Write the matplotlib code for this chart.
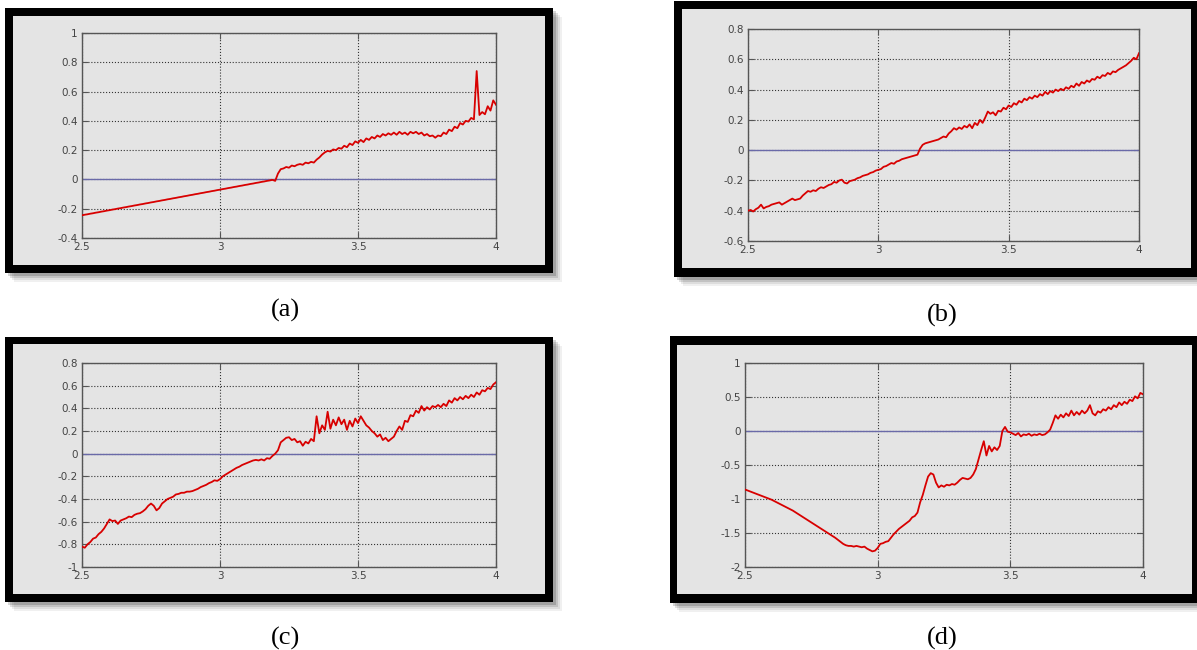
import numpy as np
import matplotlib
matplotlib.use("Agg")
import matplotlib.pyplot as plt
from matplotlib.patches import Rectangle
from matplotlib.ticker import FuncFormatter

plt.rcParams["axes.unicode_minus"] = False

# sample times (shared by all four panels)
t = np.linspace(2.5, 4.0, 151)

ya = [-0.245, -0.241, -0.238, -0.234, -0.231, -0.227, -0.224, -0.220, -0.217, -0.213,
      -0.210, -0.206, -0.203, -0.199, -0.196, -0.192, -0.189, -0.185, -0.182, -0.178,
      -0.175, -0.171, -0.168, -0.164, -0.161, -0.157, -0.154, -0.150, -0.147, -0.143,
      -0.140, -0.136, -0.133, -0.129, -0.126, -0.122, -0.119, -0.115, -0.112, -0.108,
      -0.105, -0.101, -0.098, -0.094, -0.091, -0.087, -0.084, -0.080, -0.077, -0.073,
      -0.070, -0.066, -0.063, -0.059, -0.056, -0.052, -0.049, -0.045, -0.042, -0.038,
      -0.035, -0.031, -0.028, -0.024, -0.021, -0.017, -0.014, -0.010, -0.007, -0.003,
      -0.010, 0.040, 0.070, 0.075, 0.085, 0.080, 0.095, 0.090, 0.100, 0.105,
      0.100, 0.115, 0.110, 0.120, 0.115, 0.135, 0.150, 0.170, 0.185, 0.195,
      0.190, 0.205, 0.200, 0.215, 0.210, 0.230, 0.220, 0.245, 0.235, 0.260,
      0.250, 0.270, 0.255, 0.280, 0.270, 0.290, 0.280, 0.300, 0.290, 0.310,
      0.300, 0.315, 0.305, 0.320, 0.305, 0.325, 0.310, 0.320, 0.305, 0.325,
      0.315, 0.325, 0.310, 0.320, 0.300, 0.310, 0.295, 0.300, 0.285, 0.300,
      0.295, 0.320, 0.310, 0.340, 0.330, 0.360, 0.350, 0.385, 0.375, 0.400,
      0.395, 0.420, 0.410, 0.740, 0.440, 0.460, 0.445, 0.500, 0.470, 0.540,
      0.510]

yb = [-0.400, -0.395, -0.405, -0.390, -0.380, -0.360, -0.385, -0.375, -0.370, -0.360,
      -0.355, -0.350, -0.345, -0.360, -0.350, -0.340, -0.330, -0.320, -0.330, -0.325,
      -0.320, -0.300, -0.285, -0.270, -0.275, -0.265, -0.270, -0.255, -0.245, -0.250,
      -0.240, -0.230, -0.225, -0.210, -0.215, -0.200, -0.195, -0.215, -0.220, -0.205,
      -0.200, -0.195, -0.185, -0.180, -0.170, -0.165, -0.160, -0.150, -0.145, -0.135,
      -0.130, -0.125, -0.110, -0.105, -0.095, -0.085, -0.090, -0.075, -0.070, -0.060,
      -0.055, -0.050, -0.045, -0.040, -0.035, -0.030, 0.010, 0.035, 0.045, 0.050,
      0.055, 0.060, 0.065, 0.070, 0.080, 0.090, 0.085, 0.110, 0.125, 0.145,
      0.135, 0.150, 0.140, 0.160, 0.150, 0.170, 0.145, 0.180, 0.165, 0.200,
      0.180, 0.215, 0.255, 0.240, 0.250, 0.230, 0.260, 0.255, 0.280, 0.270,
      0.295, 0.285, 0.310, 0.300, 0.325, 0.315, 0.340, 0.330, 0.350, 0.340,
      0.360, 0.350, 0.370, 0.360, 0.385, 0.370, 0.390, 0.380, 0.400, 0.390,
      0.405, 0.395, 0.415, 0.405, 0.425, 0.415, 0.440, 0.425, 0.450, 0.440,
      0.460, 0.450, 0.470, 0.465, 0.485, 0.475, 0.495, 0.490, 0.510, 0.500,
      0.520, 0.515, 0.530, 0.540, 0.550, 0.560, 0.575, 0.590, 0.610, 0.600,
      0.640]

yc = [-0.820, -0.830, -0.800, -0.780, -0.750, -0.740, -0.710, -0.690, -0.660, -0.620,
      -0.580, -0.595, -0.590, -0.620, -0.590, -0.580, -0.570, -0.555, -0.560, -0.540,
      -0.530, -0.525, -0.510, -0.490, -0.460, -0.440, -0.460, -0.500, -0.480, -0.440,
      -0.420, -0.400, -0.390, -0.380, -0.360, -0.355, -0.345, -0.345, -0.335, -0.335,
      -0.330, -0.320, -0.310, -0.295, -0.285, -0.275, -0.260, -0.250, -0.235, -0.240,
      -0.225, -0.200, -0.185, -0.170, -0.155, -0.140, -0.125, -0.115, -0.100, -0.090,
      -0.080, -0.070, -0.060, -0.055, -0.060, -0.050, -0.060, -0.040, -0.045, -0.020,
      0.000, 0.030, 0.100, 0.120, 0.140, 0.145, 0.120, 0.130, 0.100, 0.110,
      0.070, 0.105, 0.090, 0.130, 0.110, 0.330, 0.180, 0.250, 0.210, 0.370,
      0.220, 0.300, 0.250, 0.320, 0.260, 0.300, 0.210, 0.290, 0.240, 0.310,
      0.270, 0.330, 0.290, 0.250, 0.230, 0.200, 0.180, 0.150, 0.170, 0.120,
      0.140, 0.110, 0.130, 0.150, 0.200, 0.240, 0.210, 0.290, 0.280, 0.340,
      0.330, 0.380, 0.360, 0.420, 0.380, 0.410, 0.390, 0.420, 0.410, 0.430,
      0.410, 0.440, 0.420, 0.470, 0.450, 0.490, 0.470, 0.500, 0.480, 0.510,
      0.490, 0.520, 0.500, 0.540, 0.520, 0.560, 0.550, 0.580, 0.570, 0.610,
      0.630]

yd = [-0.860, -0.875, -0.890, -0.905, -0.920, -0.935, -0.950, -0.965, -0.980, -0.995,
      -1.010, -1.030, -1.050, -1.070, -1.090, -1.110, -1.130, -1.150, -1.170, -1.195,
      -1.220, -1.245, -1.270, -1.295, -1.320, -1.345, -1.370, -1.395, -1.420, -1.445,
      -1.470, -1.495, -1.520, -1.545, -1.570, -1.600, -1.630, -1.660, -1.680, -1.690,
      -1.690, -1.700, -1.690, -1.700, -1.710, -1.700, -1.730, -1.750, -1.770, -1.760,
      -1.720, -1.660, -1.650, -1.630, -1.620, -1.570, -1.520, -1.480, -1.440, -1.410,
      -1.380, -1.350, -1.320, -1.270, -1.250, -1.200, -1.050, -0.940, -0.800, -0.670,
      -0.620, -0.640, -0.760, -0.830, -0.800, -0.820, -0.790, -0.800, -0.780, -0.790,
      -0.760, -0.720, -0.690, -0.700, -0.710, -0.690, -0.640, -0.560, -0.420, -0.280,
      -0.150, -0.360, -0.220, -0.300, -0.240, -0.280, -0.220, 0.000, 0.060, -0.010,
      -0.020, -0.040, -0.060, -0.030, -0.080, -0.050, -0.060, -0.040, -0.070, -0.050,
      -0.060, -0.040, -0.060, -0.050, -0.020, 0.020, 0.120, 0.230, 0.180, 0.240,
      0.200, 0.260, 0.220, 0.300, 0.230, 0.280, 0.240, 0.300, 0.260, 0.300,
      0.380, 0.260, 0.230, 0.290, 0.270, 0.320, 0.300, 0.350, 0.320, 0.380,
      0.350, 0.420, 0.380, 0.430, 0.400, 0.460, 0.440, 0.510, 0.480, 0.560,
      0.540]

series = [ya, yb, yc, yd]
labels = ["(a)", "(b)", "(c)", "(d)"]
ylims = [(-0.4, 1.0), (-0.6, 0.8), (-1.0, 0.8), (-2.0, 1.0)]
ysteps = [0.2, 0.2, 0.2, 0.5]
xticks = [2.5, 3.0, 3.5, 4.0]

W, H = 1197, 650
fig = plt.figure(figsize=(W / 100, H / 100), dpi=100)
fig.patch.set_facecolor("white")


def fbox(x0, y0, x1, y1):
    # pixel box (top-left origin) -> figure fraction [l, b, w, h]
    return [x0 / W, 1 - y1 / H, (x1 - x0) / W, (y1 - y0) / H]


def rect(x0, y0, x1, y1, **kw):
    l, b, w, h = fbox(x0, y0, x1, y1)
    fig.patches.append(Rectangle((l, b), w, h, transform=fig.transFigure,
                                 zorder=-5, **kw))


# frame outer, frame inner, axes box, label centre (pixels)
frames = [(5, 8, 553, 273), (674, 1, 1197, 277), (5, 337, 553, 602), (670, 336, 1197, 603)]
inners = [(13, 16, 545, 265), (682, 9, 1191, 268), (13, 344, 545, 594), (677, 345, 1192, 594)]
axboxes = [(82, 33, 496, 238), (748, 29, 1139, 241), (82, 363, 496, 567), (745, 363, 1143, 567)]
labpos = [(285, 310), (942, 315), (285, 638), (942, 638)]

panel_gray = "#e4e4e4"

for k in range(4):
    x0, y0, x1, y1 = frames[k]
    # soft drop shadow
    for d, a in [(9, 0.06), (7, 0.08), (5, 0.12), (3, 0.16)]:
        rect(x0 + d, y0 + d, min(x1 + d, W), y1 + d, color="black", alpha=a, lw=0)
    rect(x0, y0, x1, y1, color="black", lw=0)
    rect(*inners[k], color=panel_gray, lw=0)

    ax = fig.add_axes(fbox(*axboxes[k]))
    ax.set_zorder(5)
    ax.set_facecolor(panel_gray)
    ax.axhline(0, color="#6a6aa8", lw=1.0, zorder=2)
    ax.plot(t, series[k], color="#d80000", lw=1.3, zorder=3)

    lo, hi = ylims[k]
    ax.set_xlim(2.5, 4.0)
    ax.set_ylim(lo, hi)
    ax.set_xticks(xticks)
    n = int(round((hi - lo) / ysteps[k]))
    ax.set_yticks([lo + i * ysteps[k] for i in range(n + 1)])
    fmt = FuncFormatter(lambda v, p: "%g" % round(v, 2))
    ax.xaxis.set_major_formatter(fmt)
    ax.yaxis.set_major_formatter(fmt)
    ax.grid(True, linestyle=":", color="#333333", lw=0.8)
    ax.tick_params(direction="in", length=4, width=0.8, colors="#555555",
                   labelcolor="#444444", labelsize=7.5, top=True, right=True, pad=3)
    for s in ax.spines.values():
        s.set_color("#555555")
        s.set_linewidth(1.0)

    lx, ly = labpos[k]
    fig.text(lx / W, 1 - ly / H, labels[k], ha="center", va="center",
             fontsize=19, family="Liberation Serif")

fig.savefig("out.png", dpi=100)
